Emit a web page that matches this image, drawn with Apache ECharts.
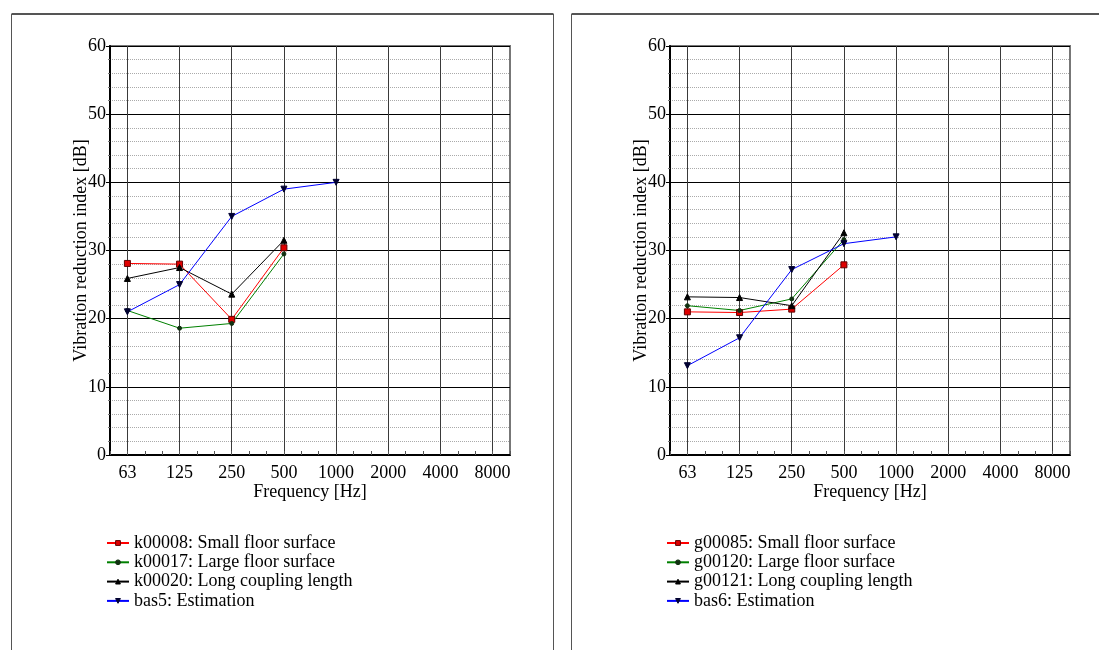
<!DOCTYPE html>
<html>
<head>
<meta charset="utf-8">
<script src="https://cdn.jsdelivr.net/npm/echarts@6/dist/echarts.min.js"></script>
<style>
  body { margin: 0; background: #fff; }
  #chart_id { width: 1099px; height: 650px; }
</style>
</head>
<body>
<div id="chart_id"></div>
<script>
// third-octave bands shown on the frequency axis (50 Hz .. 10 kHz)
const bands = ['50', '63', '80', '100', '125', '160', '200', '250', '315', '400', '500', '630',
  '800', '1000', '1250', '1600', '2000', '2500', '3150', '4000', '5000', '6300', '8000', '10000'];
const octaveLabels = ['63', '125', '250', '500', '1000', '2000', '4000', '8000'];
const yTicks = [0, 10, 20, 30, 40, 50, 60];

const measFreq = ['63', '125', '250', '500'];
const estFreq = ['63', '125', '250', '500', '1000'];

// left chart
const k00008 = [28.1, 28.0, 19.9, 30.4];
const k00017 = [21.2, 18.6, 19.3, 29.5];
const k00020 = [25.9, 27.5, 23.6, 31.5];
const bas5 = [21.0, 25.0, 35.0, 39.0, 40.0];

// right chart
const g00085 = [21.0, 20.9, 21.4, 27.9];
const g00120 = [21.9, 21.2, 22.9, 31.6];
const g00121 = [23.2, 23.1, 21.9, 32.6];
const bas6 = [13.1, 17.2, 27.2, 31.0, 32.0];

const leftNames = ['k00008: Small floor surface', 'k00017: Large floor surface',
  'k00020: Long coupling length', 'bas5: Estimation'];
const rightNames = ['g00085: Small floor surface', 'g00120: Large floor surface',
  'g00121: Long coupling length', 'bas6: Estimation'];

const FONT = '"Liberation Serif", "DejaVu Serif", serif';

const pair = (xs, ys) => ys.map((v, i) => [xs[i], v]);

function xAxisFor(idx) {
  return {
    type: 'category',
    gridIndex: idx,
    data: bands,
    boundaryGap: false,
    name: 'Frequency [Hz]',
    nameLocation: 'middle',
    nameGap: 28,
    nameMoveOverlap: false,
    nameTextStyle: { fontFamily: FONT, fontSize: 18, color: '#000' },
    axisLine: { lineStyle: { color: '#000', width: 2 } },
    axisTick: {
      show: true,
      inside: true,
      length: 4,
      interval: 0,
      lineStyle: { color: '#555' },
    },
    axisLabel: {
      interval: (i, v) => octaveLabels.indexOf(v) >= 0,
      margin: 9,
      fontFamily: FONT,
      fontSize: 18,
      color: '#000',
    },
    splitLine: {
      show: true,
      interval: (i, v) => octaveLabels.indexOf(v) >= 0,
      lineStyle: { color: '#3a3a3a', width: 1 },
    },
  };
}

function yAxisFor(idx) {
  return {
    type: 'value',
    gridIndex: idx,
    min: yTicks[0],
    max: yTicks[yTicks.length - 1],
    interval: 10,
    name: 'Vibration reduction index [dB]',
    nameLocation: 'middle',
    nameGap: 20,
    nameMoveOverlap: false,
    nameTextStyle: { fontFamily: FONT, fontSize: 18, color: '#000' },
    axisLine: { show: true, lineStyle: { color: '#000', width: 2 } },
    axisTick: { show: true, length: 4, lineStyle: { color: '#000' } },
    minorTick: { show: true, splitNumber: 5, length: 2, lineStyle: { color: '#777' } },
    axisLabel: { margin: 4, fontFamily: FONT, fontSize: 18, color: '#000' },
    splitLine: { show: true, lineStyle: { color: '#000', width: 1 } },
    minorSplitLine: { show: true, lineStyle: { color: '#aaa', type: 'dotted', width: 1 } },
  };
}

const styles = [
  { color: '#ff0000', symbol: 'rect', size: 6, fill: '#e00000', border: '#600000' },
  { color: '#008000', symbol: 'circle', size: 4, fill: '#103010', border: '#103010' },
  { color: '#000000', symbol: 'triangle', size: 6, fill: '#000', border: '#000' },
  { color: '#0000ff', symbol: 'triangle', size: 6, fill: '#000030', border: '#000030', rotate: 180 },
];

function seriesFor(idx, names, sets) {
  return sets.map((d, i) => ({
    name: names[i],
    type: 'line',
    xAxisIndex: idx,
    yAxisIndex: idx,
    data: d,
    symbol: styles[i].symbol,
    symbolSize: styles[i].size,
    symbolRotate: styles[i].rotate || 0,
    lineStyle: { color: styles[i].color, width: 1 },
    itemStyle: { color: styles[i].fill, borderColor: styles[i].border, borderWidth: 1 },
    emphasis: { disabled: true },
    animation: false,
  }));
}

function legendFor(left, names) {
  return {
    orient: 'vertical',
    left: left,
    top: 534,
    padding: 0,
    data: names,
    itemWidth: 22,
    itemHeight: 6,
    itemGap: 1.3,
    itemStyle: { borderWidth: 1 },
    textStyle: { fontFamily: FONT, fontSize: 18, color: '#000', lineHeight: 18 },
  };
}

function frame(x0, x1) {
  return [
    { type: 'line', shape: { x1: x0, y1: 14, x2: x1, y2: 14 }, style: { stroke: '#555', lineWidth: 2 } },
    { type: 'line', shape: { x1: x0, y1: 14, x2: x0, y2: 650 }, style: { stroke: '#555', lineWidth: 1 } },
    { type: 'line', shape: { x1: x1, y1: 14, x2: x1, y2: 650 }, style: { stroke: '#555', lineWidth: 1 } },
  ];
}

const myChart = echarts.init(document.getElementById('chart_id'), null, { renderer: 'canvas' });
const option = {
  animation: false,
  backgroundColor: '#fff',
  graphic: [...frame(11.5, 553.5), ...frame(571.5, 1110)],
  grid: [
    { left: 110, top: 46, width: 400, height: 409, show: true, borderColor: '#777', borderWidth: 2 },
    { left: 670, top: 46, width: 400, height: 409, show: true, borderColor: '#777', borderWidth: 2 },
  ],
  xAxis: [xAxisFor(0), xAxisFor(1)],
  yAxis: [yAxisFor(0), yAxisFor(1)],
  legend: [legendFor(106, leftNames), legendFor(666, rightNames)],
  series: [
    ...seriesFor(0, leftNames, [
      pair(measFreq, k00008), pair(measFreq, k00017), pair(measFreq, k00020), pair(estFreq, bas5),
    ]),
    ...seriesFor(1, rightNames, [
      pair(measFreq, g00085), pair(measFreq, g00120), pair(measFreq, g00121), pair(estFreq, bas6),
    ]),
  ],
};
myChart.setOption(option);
window.onresize = myChart.resize;
</script>
</body>
</html>
